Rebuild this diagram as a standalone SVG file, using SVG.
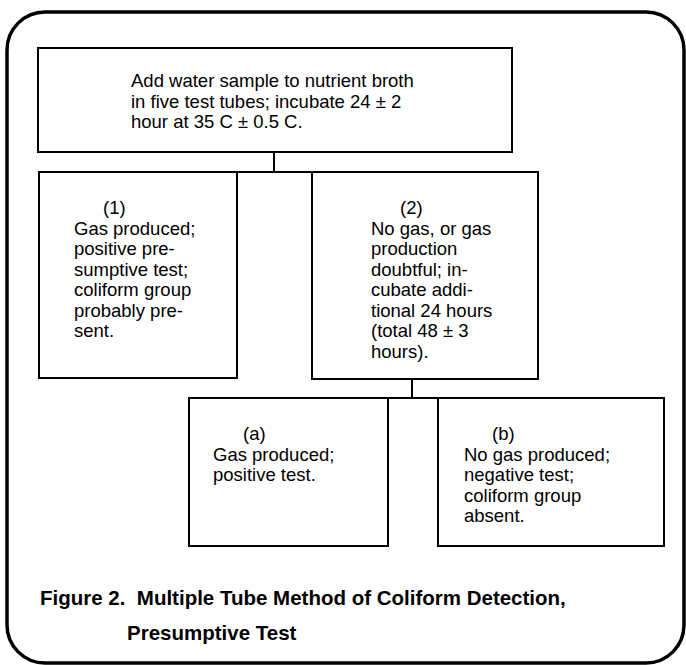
<svg xmlns="http://www.w3.org/2000/svg" width="686" height="665" viewBox="0 0 686 665">
<style>
.box{fill:none;stroke:#000;stroke-width:2}
.frame{fill:none;stroke:#000;stroke-width:3.5}
.conn{fill:none;stroke:#000;stroke-width:2}
text{font-family:"Liberation Sans",Arial,sans-serif;font-size:18.5px;fill:#000}
.cap{font-weight:bold;font-size:20.5px}
</style>
<rect width="686" height="665" fill="#fff"/>
<rect class="frame" x="7" y="12" width="677" height="651" rx="38" ry="38"/>
<g id="connectors">
<line class="conn" x1="274" y1="152" x2="274" y2="172"/>
<line class="conn" x1="237" y1="172" x2="312" y2="172"/>
<line class="conn" x1="412" y1="379" x2="412" y2="398"/>
<line class="conn" x1="388" y1="398" x2="438" y2="398"/>
</g>
<g id="node-start">
<rect class="box" x="38" y="48" width="474" height="104"/>
<text x="131" y="87">Add water sample to nutrient broth</text>
<text x="131" y="107.5">in five test tubes; incubate 24 ± 2</text>
<text x="131" y="128">hour at 35 C ± 0.5 C.</text>
</g>
<g id="node-1">
<rect class="box" x="39" y="172" width="198" height="206"/>
<text x="103" y="214">(1)</text>
<text x="74" y="234.5">Gas produced;</text>
<text x="74" y="255">positive pre-</text>
<text x="74" y="275.5">sumptive test;</text>
<text x="74" y="296">coliform group</text>
<text x="74" y="316.5">probably pre-</text>
<text x="74" y="337">sent.</text>
</g>
<g id="node-2">
<rect class="box" x="312" y="172" width="226" height="207"/>
<text x="400" y="214">(2)</text>
<text x="371" y="234.5">No gas, or gas</text>
<text x="371" y="255">production</text>
<text x="371" y="275.5">doubtful; in-</text>
<text x="371" y="296">cubate addi-</text>
<text x="371" y="316.5">tional 24 hours</text>
<text x="371" y="337">(total 48 ± 3</text>
<text x="371" y="357.5">hours).</text>
</g>
<g id="node-a">
<rect class="box" x="189" y="398" width="199" height="148"/>
<text x="243" y="440">(a)</text>
<text x="213" y="460.5">Gas produced;</text>
<text x="213" y="481">positive test.</text>
</g>
<g id="node-b">
<rect class="box" x="438" y="398" width="226" height="148"/>
<text x="492" y="440">(b)</text>
<text x="464" y="460.5">No gas produced;</text>
<text x="464" y="481">negative test;</text>
<text x="464" y="501.5">coliform group</text>
<text x="464" y="522">absent.</text>
</g>
<g id="caption">
<text class="cap" x="40" y="605" xml:space="preserve">Figure 2.  Multiple Tube Method of Coliform Detection,</text>
<text class="cap" x="127" y="640">Presumptive Test</text>
</g>
</svg>
